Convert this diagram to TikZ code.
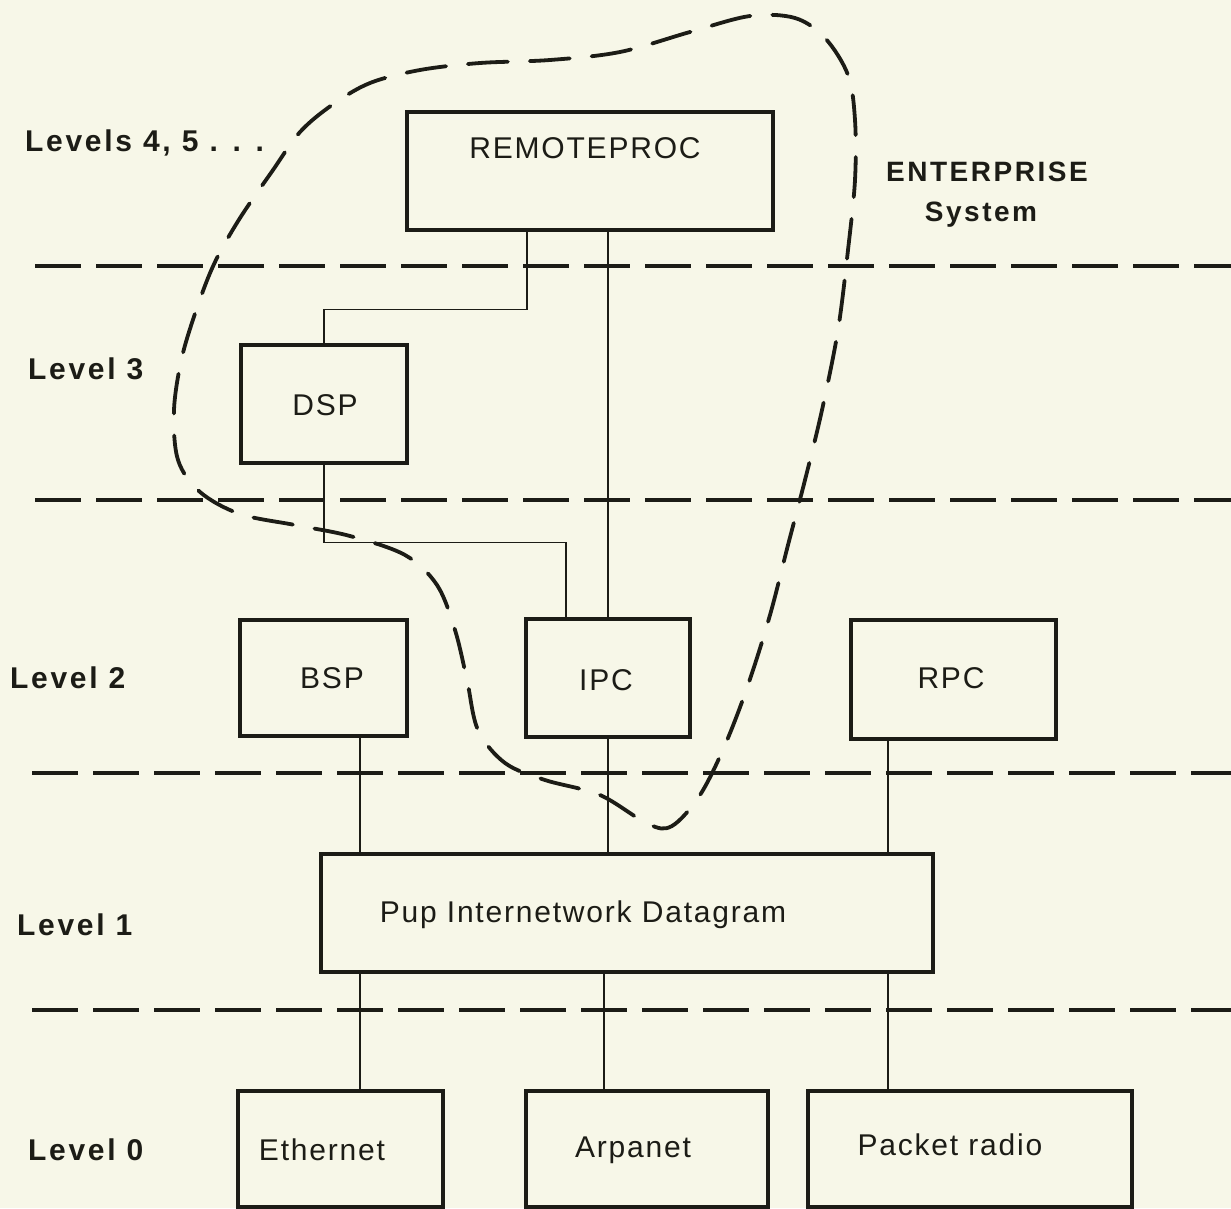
\documentclass[tikz,border=0pt]{standalone}
\usepackage{fontspec}
\setmainfont{Liberation Sans}
\newfontfamily\boxfont[LetterSpace=6]{Liberation Sans}
\newfontfamily\lvlfont[LetterSpace=9]{Liberation Sans}
\definecolor{paper}{RGB}{247,247,232}
\definecolor{ink}{RGB}{28,28,22}
\tikzset{
  box/.style={draw=ink, line width=4.4pt, rectangle, inner sep=0pt, anchor=north west},
  boxtext/.style={inner sep=0pt, text=ink, font=\boxfont\fontsize{30}{34}\selectfont},
  lvltext/.style={inner sep=0pt, anchor=west, text=ink, font=\lvlfont\bfseries\fontsize{30}{34}\selectfont},
  enttext/.style={inner sep=0pt, text=ink, font=\lvlfont\bfseries\fontsize{28}{32}\selectfont},
  conn/.style={draw=ink, line width=1.8pt},
  levelline/.style={draw=ink, line width=4.2pt, dash pattern=on 46pt off 15pt},
  enclosure/.style={draw=ink, line width=3.8pt, dash pattern=on 40pt off 22pt, line cap=round}
}
\begin{document}
\begin{tikzpicture}[x=1pt,y=-1pt]
\useasboundingbox (0,0) rectangle (1231,1208);
\fill[paper] (0,0) rectangle (1231,1208);

% level separators
\draw[levelline] (35,266) -- (1231,266);
\draw[levelline] (35,500) -- (1231,500);
\draw[levelline] (32,773) -- (1231,773);
\draw[levelline] (32,1010) -- (1231,1010);

% boxes
\node[box, minimum width=366pt, minimum height=118pt] (rp) at (405,110) {};
\node[box, minimum width=166pt, minimum height=118pt] (dsp) at (239,343) {};
\node[box, minimum width=167pt, minimum height=116pt] (bsp) at (238,618) {};
\node[box, minimum width=164pt, minimum height=118pt] (ipc) at (524,617) {};
\node[box, minimum width=205pt, minimum height=119pt] (rpc) at (849,618) {};
\node[box, minimum width=612pt, minimum height=118pt] (pup) at (319,852) {};
\node[box, minimum width=205pt, minimum height=116pt] (eth) at (236,1089) {};
\node[box, minimum width=242pt, minimum height=116pt] (arp) at (524,1089) {};
\node[box, minimum width=324pt, minimum height=116pt] (pkt) at (806,1089) {};

% box texts
\node[boxtext] (trp) at (585,148) {REMOTEPROC};
\node[boxtext] (tdsp) at (325,405) {DSP};
\node[boxtext] (tbsp) at (332,678) {BSP};
\node[boxtext] (tipc) at (606,680) {IPC};
\node[boxtext] (trpc) at (951,678) {RPC};
\node[boxtext] (tpup) at (583,915) {Pup Internetwork Datagram};
\node[boxtext] (teth) at (322,1150) {Ethernet};
\node[boxtext] (tarp) at (633,1150) {Arpanet};
\node[boxtext] (tpkt) at (950,1145) {Packet radio};

% level labels
\node[lvltext] (l45) at (25,143) {Levels 4, 5 . . .};
\node[lvltext] (l3) at (28,369) {Level 3};
\node[lvltext] (l2) at (10,678) {Level 2};
\node[lvltext] (l1) at (17,925) {Level 1};
\node[lvltext] (l0) at (28,1150) {Level 0};
\node[enttext] (ent) at (987,172) {ENTERPRISE};
\node[enttext] (sys) at (981,215) {System};

% connectors
\draw[conn] ([xshift=122pt]rp.south west) -- ++(0,77) -| (dsp.north);
\draw[conn] (rp.south -| ipc.north) -- (ipc.north);
\draw[conn] (dsp.south) -- ++(0,77) -| ([xshift=42pt]ipc.north west);

\coordinate (cb) at ([xshift=122pt]bsp.south west);
\draw[conn] (cb) -- (cb |- pup.north);
\draw[conn] (ipc.south) -- (ipc.south |- pup.north);
\coordinate (cr) at ([xshift=39pt]rpc.south west);
\draw[conn] (cr) -- (cr |- pup.north);

\coordinate (ce) at ([xshift=124pt]eth.north west);
\draw[conn] (ce |- pup.south) -- (ce);
\coordinate (ca) at ([xshift=80pt]arp.north west);
\draw[conn] (ca |- pup.south) -- (ca);
\coordinate (cp) at ([xshift=82pt]pkt.north west);
\draw[conn] (cp |- pup.south) -- (cp);

% ENTERPRISE system boundary
\draw[enclosure] plot[smooth cycle, tension=0.55] coordinates {
 (273,170) (300,132) (332,105) (370,83) (420,70) (480,63) (550,60) (620,52)
 (690,32) (750,16) (795,18) (825,38) (848,75) (855,120) (855,180) (848,250)
 (838,330) (822,410) (805,480) (788,545) (770,615) (748,685) (725,745)
 (700,795) (672,826) (648,824) (600,795) (545,780) (505,763) (478,730)
 (467,680) (455,630) (437,585) (405,555) (350,536) (295,525) (240,514)
 (200,492) (178,460) (174,410) (182,357) (198,305) (215,262) (240,218)
};
\end{tikzpicture}
\end{document}
